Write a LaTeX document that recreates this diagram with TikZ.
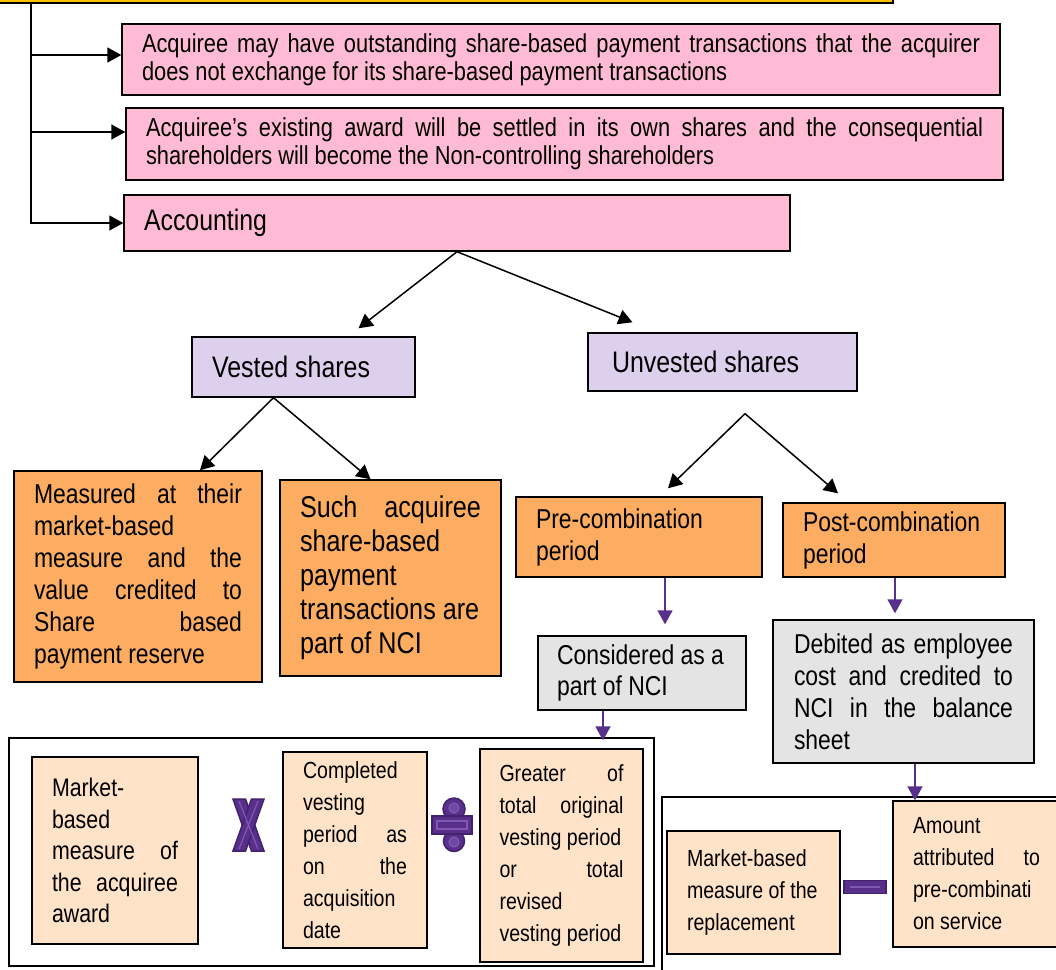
\documentclass[tikz,border=0pt]{standalone}
\usepackage{fontspec}
\setmainfont{Liberation Sans}[FakeStretch=0.84]
\usetikzlibrary{arrows.meta}
\definecolor{pinkbox}{RGB}{255,187,212}
\definecolor{lavbox}{RGB}{220,208,236}
\definecolor{orgbox}{RGB}{252,173,98}
\definecolor{greybox}{RGB}{227,228,227}
\definecolor{peachbox}{RGB}{254,227,200}
\definecolor{gold}{RGB}{255,192,0}
\definecolor{purp}{RGB}{88,48,140}
\definecolor{purpdk}{RGB}{66,34,108}
\definecolor{purplt}{RGB}{128,88,178}
\begin{document}
\begin{tikzpicture}[x=1pt,y=-1pt,
					bx/.append style={draw=black,line width=1.4pt,inner sep=2pt,align=justify},
					pk/.append style={bx,fill=pinkbox,font=\fontsize{26}{28}\selectfont},
					lv/.append style={bx,fill=lavbox,font=\fontsize{29.7}{32}\selectfont},
					og/.append style={bx,fill=orgbox,font=\fontsize{27.3}{32}\selectfont},
					gy/.append style={bx,fill=greybox,font=\fontsize{27.3}{31.5}\selectfont},
					pc/.append style={bx,line width=1.2pt,fill=peachbox,font=\fontsize{23.3}{32}\selectfont},
					fr/.append style={draw=black,line width=1.1pt,fill=white,inner sep=0pt},
					a/.append style={-{Triangle[width=15pt,length=14pt]},line width=1.5pt},
					pa/.append style={-{Triangle[width=15pt,length=14pt]},line width=1.6pt,draw=purp},
					op/.append style={fill=purp,draw=purpdk,line width=1.5pt},
					opl/.append style={draw=purplt,line width=1.2pt}]
\useasboundingbox (0,0) rectangle (1056,969);
% header box, only its lower edge is visible
\node[draw=black,line width=1.4pt,fill=gold,minimum width=903pt,minimum height=43pt] (hdr) at (441.5,-18.5) {};
% frames
\node[fr,minimum width=645pt,minimum height=228pt] (frameL) at (331.5,852) {};
\node[fr,minimum width=413pt,minimum height=193pt] (frameR) at (868.5,893.5) {};
% boxes
\node[pk,text width=838pt,minimum width=878pt,minimum height=71pt] (acq1) at (561,59.5) {Acquiree may have outstanding share-based payment transactions that the acquirer\linebreak does not exchange for its share-based payment transactions};
\node[pk,text width=837pt,minimum width=877pt,minimum height=72pt] (acq2) at (564.5,144) {Acquiree’s existing award will be settled in its own shares and the consequential\linebreak shareholders will become the Non-controlling shareholders};
\node[pk,font=\fontsize{29.6}{32}\selectfont,text width=626pt,minimum width=666pt,minimum height=56pt] (acct) at (457,223) {Accounting};
\node[lv,text width=183pt,minimum width=223pt,minimum height=60pt] (vested) at (303.5,367) {Vested shares};
\node[lv,text width=221pt,minimum width=269pt,minimum height=58pt] (unvested) at (722.5,362) {Unvested shares};
\node[og,text width=208pt,minimum width=248pt,minimum height=211pt] (measured) at (138,576.5) {Measured at their\linebreak market-based\\ measure and the\linebreak value credited to\linebreak Share based\linebreak payment reserve};
\node[og,font=\fontsize{30}{34}\selectfont,text width=181pt,minimum width=221pt,minimum height=196pt] (such) at (390.5,578) {Such acquiree\linebreak share-based\\ payment\\ transactions are\\ part of NCI};
\node[og,text width=206pt,minimum width=246pt,minimum height=80pt] (pre) at (639,537) {Pre-combination\\ period};
\node[og,text width=182pt,minimum width=222pt,minimum height=74pt] (post) at (894,540) {Post-combination\\ period};
\node[gy,font=\fontsize{27.3}{31}\selectfont,text width=170pt,minimum width=208pt,minimum height=74pt] (cons) at (642,673) {Considered as a\\ part of NCI};
\node[gy,font=\fontsize{27.3}{32}\selectfont,text width=219pt,minimum width=261pt,minimum height=143pt] (debited) at (903.5,691.5) {Debited as employee\linebreak cost and credited to\linebreak NCI in the balance\linebreak sheet};
\node[pc,font=\fontsize{25.4}{31.5}\selectfont,text width=126pt,minimum width=166pt,minimum height=187pt] (mkt) at (115,850.5) {Market-\\ based\\ measure of\linebreak the acquiree\linebreak award};
\node[pc,text width=104pt,minimum width=144pt,minimum height=196pt] (compl) at (355,850) {Completed\\ vesting\\ period as\linebreak on the\linebreak acquisition\\ date};
\node[pc,text width=124pt,minimum width=163pt,minimum height=213pt] (greater) at (561.5,855.5) {Greater of\linebreak total original\linebreak vesting period\\ or total\linebreak revised\\ vesting period};
\node[pc,text width=133pt,minimum width=173pt,minimum height=123pt] (repl) at (753.5,892.5) {Market-based\\ measure of the\\ replacement};
\node[pc,text width=127pt,minimum width=167pt,minimum height=146pt] (amount) at (976.5,874) {Amount\\ attributed to\linebreak pre-combinati\\ on service};
% left trunk
\coordinate (trunk) at (31,3);
\coordinate (a1) at ([yshift=4.5pt]acq1.west);
\coordinate (a2) at ([yshift=12pt]acq2.west);
\draw[a] (trunk) |- (acct.west);
\draw[a] (trunk |- a1) -- (a1);
\draw[a] (trunk |- a2) -- (a2);
% black branches
\draw[a] (acct.south) -- ([xshift=55pt,yshift=8pt]vested.north);
\draw[a] (acct.south) -- ([xshift=-90pt,yshift=10pt]unvested.north);
\draw[a] ([xshift=-30pt]vested.south) -- ([xshift=62pt]measured.north);
\draw[a] ([xshift=-30pt]vested.south) -- ([xshift=-20pt]such.north);
\coordinate (split) at ([xshift=22.5pt,yshift=-22pt]unvested.south);
\draw[a] (split) -- ([xshift=29pt,yshift=8pt]pre.north);
\draw[a] (split) -- ([xshift=-56pt,yshift=9pt]post.north);
% purple arrows
\coordinate (p1) at ([xshift=23pt,yshift=11pt]cons.north);
\coordinate (p2) at ([xshift=-8.5pt,yshift=6pt]debited.north);
\coordinate (p3) at ([xshift=41.5pt,yshift=8pt]greater.north);
\coordinate (p4) at ([xshift=-61.5pt]amount.north);
\draw[pa] (p1 |- pre.south) -- (p1);
\draw[pa] (p2 |- post.south) -- (p2);
\draw[pa] (p3 |- cons.south) -- (p3);
\draw[pa] (p4 |- debited.south) -- (p4);
% operators
\coordinate (mul) at (248.5,825);
\coordinate (dvd) at (452,825);
\coordinate (sub) at (865,887);
\begin{scope}[shift={(mul)}]
\filldraw[op] (-15.5,-26) -- (-3,-26) -- (15.5,26) -- (3,26) -- cycle;
\filldraw[op] (3,-26) -- (15.5,-26) -- (-3,26) -- (-15.5,26) -- cycle;
\draw[opl] (-9.5,-24) -- (9.5,24) (9.5,-24) -- (-9.5,24);
\end{scope}
\begin{scope}[shift={(dvd)}]
\filldraw[op] (2,-16) circle (11pt);
\filldraw[op] (2,16) circle (10.5pt);
\filldraw[op] (-20,-9) rectangle (20,9);
\draw[opl] (-15,-4) rectangle (15,4);
\filldraw[opl,fill=purplt!60!purp] (2,-17) circle (5pt) (2,17) circle (5pt);
\end{scope}
\begin{scope}[shift={(sub)}]
\filldraw[op] (-21,-6.5) rectangle (21,6.5);
\draw[opl] (-15,0) -- (15,0);
\end{scope}
\end{tikzpicture}
\end{document}
